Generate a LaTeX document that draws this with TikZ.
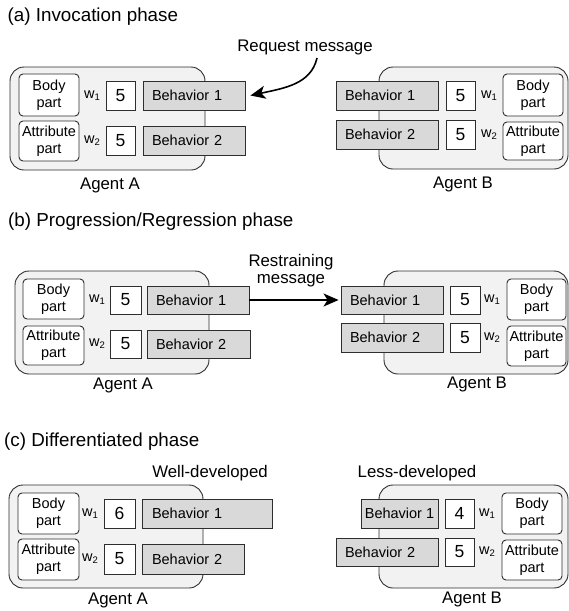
\documentclass[tikz,border=0pt]{standalone}
\usepackage{fontspec}
\setmainfont{Liberation Sans}
\usetikzlibrary{arrows.meta}

\definecolor{agentfill}{HTML}{F2F2F2}
\definecolor{behfill}{HTML}{D9D9D9}
\definecolor{edgegray}{HTML}{2E2E2E}

\newcommand\titlefont{\fontsize{18.8}{21}\selectfont}
\newcommand\labelfont{\fontsize{16.8}{17}\selectfont}
\newcommand\boxfont{\fontsize{14.5}{17}\selectfont}
\newcommand\numfont{\fontsize{17.5}{19}\selectfont}

% generic box given by its corners: name, style, x1, y1, x2, y2, text
\newcommand\placebox[7]{%
  \node[#2, minimum width={#5-#3}, minimum height={#6-#4}] (#1)
    at ({(#3+#5)/2},{(#4+#6)/2}) {#7};}
% w label with subscript
\newcommand\wlab[1]{w\raisebox{-2.2pt}{\fontsize{9.5}{9.5}\selectfont #1}}

\begin{document}
\begin{tikzpicture}[x=1pt,y=-1pt,
  agent/.style={draw=edgegray, fill=agentfill, rounded corners=14pt, line width=0.9pt, inner sep=0pt},
  part/.style={draw=edgegray, fill=white, rounded corners=4pt, line width=0.9pt, inner sep=0pt, align=center, font=\boxfont},
  num/.style={draw=edgegray, fill=white, line width=0.9pt, inner sep=0pt, font=\numfont},
  beh/.style={draw=edgegray, fill=behfill, line width=0.9pt, inner ysep=0pt, align=left, font=\boxfont},
  wtxt/.style={inner sep=0pt, font=\boxfont},
  agentname/.style={inner sep=0pt, font=\labelfont},
  heading/.style={inner sep=0pt, anchor=west, font=\titlefont},
  note/.style={inner sep=0pt, font=\labelfont, align=center},
  msg/.style={line width=1.6pt, -{Stealth[length=15pt,width=13pt,inset=4pt]}}
]
\useasboundingbox (0,0) rectangle (569,611);

% ---------------- (a) Invocation phase ----------------
\node[heading] (ta) at (7.5,17) {(a) Invocation phase};

\placebox{agA1}{agent}{10}{67}{205}{170}{}
\placebox{bodyA1}{part}{19}{74}{79}{116}{Body\\part}
\placebox{attrA1}{part}{19}{121}{79}{161}{Attribute\\part}
\placebox{nA11}{num}{106}{81}{135}{110}{5}
\placebox{nA12}{num}{106}{126}{135}{155}{5}
\node[beh, inner xsep=9pt, text width=84pt, minimum height=29pt] (bA11) at (194,95.5) {Behavior 1};
\node[beh, inner xsep=9pt, text width=84pt, minimum height=29pt] (bA12) at (194,140.5) {Behavior 2};
\node[wtxt] (wA11) at (92,95.5) {\wlab{1}};
\node[wtxt] (wA12) at (92,140.5) {\wlab{2}};
\node[agentname] (nameA1) at (110,185) {Agent A};

\placebox{agB1}{agent}{379}{67}{568}{169}{}
\node[beh, inner xsep=9pt, text width=84pt, minimum height=29pt] (bB11) at (387,95.5) {Behavior 1};
\node[beh, inner xsep=9pt, text width=84pt, minimum height=29pt] (bB12) at (387,134.5) {Behavior 2};
\placebox{nB11}{num}{446}{81}{475}{110}{5}
\placebox{nB12}{num}{446}{120}{475}{149}{5}
\node[wtxt] (wB11) at (489,95.5) {\wlab{1}};
\node[wtxt] (wB12) at (489,134.5) {\wlab{2}};
\placebox{bodyB1}{part}{503}{74}{563}{116}{Body\\part}
\placebox{attrB1}{part}{503}{122}{563}{160}{Attribute\\part}
\node[agentname] (nameB1) at (463,184) {Agent B};

\node[note] (req) at (305,47) {Request message};
\coordinate (reqstart) at (317,58);
\draw[msg] (reqstart) .. controls (311,84) and (285,88) .. ([xshift=5pt]bA11.east);

% ---------------- (b) Progression/Regression phase ----------------
\node[heading] (tb) at (8,222) {(b) Progression/Regression phase};

\placebox{agA2}{agent}{15}{271}{209}{374}{}
\placebox{bodyA2}{part}{23}{279}{84}{319}{Body\\part}
\placebox{attrA2}{part}{23}{326}{84}{365}{Attribute\\part}
\placebox{nA21}{num}{110}{286}{141}{314}{5}
\placebox{nA22}{num}{110}{330}{141}{358}{5}
\node[beh, inner xsep=9pt, text width=84pt, minimum height=28pt] (bA21) at (198,300) {Behavior 1};
\node[beh, inner xsep=9pt, text width=85pt, minimum height=28pt] (bA22) at (198.5,344) {Behavior 2};
\node[wtxt] (wA21) at (97,300) {\wlab{1}};
\node[wtxt] (wA22) at (97,344) {\wlab{2}};
\node[agentname] (nameA2) at (123,385) {Agent A};

\placebox{agB2}{agent}{384}{271}{568}{374}{}
\node[beh, inner xsep=9pt, text width=84pt, minimum height=28pt] (bB21) at (392,300) {Behavior 1};
\node[beh, inner xsep=9pt, text width=84pt, minimum height=29pt] (bB22) at (392,337.5) {Behavior 2};
\placebox{nB21}{num}{450}{286}{480}{314}{5}
\placebox{nB22}{num}{450}{323}{480}{352}{5}
\node[wtxt] (wB21) at (492,300) {\wlab{1}};
\node[wtxt] (wB22) at (492,337.5) {\wlab{2}};
\placebox{bodyB2}{part}{507}{279}{566}{320}{Body\\part}
\placebox{attrB2}{part}{507}{326}{566}{366}{Attribute\\part}
\node[agentname] (nameB2) at (477,384) {Agent B};

\node[note] (restr) at (291,271) {Restraining\\message};
\draw[msg] (bA21.east) -- ([xshift=-2pt]bB21.west);

% ---------------- (c) Differentiated phase ----------------
\node[heading] (tc) at (4,442) {(c) Differentiated phase};

\node[note] (well) at (210,473) {Well-developed};
\placebox{agA3}{agent}{9}{485}{203}{588}{}
\placebox{bodyA3}{part}{18}{493}{79}{534}{Body\\part}
\placebox{attrA3}{part}{18}{539}{79}{580}{Attribute\\part}
\placebox{nA31}{num}{104}{499}{135}{528}{6}
\placebox{nA32}{num}{104}{544}{135}{574}{5}
\node[beh, inner xsep=10pt, text width=110pt, minimum height=29pt] (bA31) at (207,513.5) {Behavior 1};
\node[beh, inner xsep=10pt, text width=82pt, minimum height=30pt] (bA32) at (193,559) {Behavior 2};
\node[wtxt] (wA31) at (90,513.5) {\wlab{1}};
\node[wtxt] (wA32) at (90,559) {\wlab{2}};
\node[agentname] (nameA3) at (118,600) {Agent A};

\node[note] (less) at (417,473) {Less-developed};
\placebox{agB3}{agent}{379}{485}{568}{588}{}
\placebox{bB31}{beh, inner xsep=0pt, align=center}{361}{499}{438}{528}{Behavior 1}
\node[beh, inner xsep=9pt, text width=84pt, minimum height=28pt] (bB32) at (387,552) {Behavior 2};
\placebox{nB31}{num}{445}{499}{474}{528}{4}
\placebox{nB32}{num}{445}{538}{474}{566}{5}
\node[wtxt] (wB31) at (487,513.5) {\wlab{1}};
\node[wtxt] (wB32) at (487,552) {\wlab{2}};
\placebox{bodyB3}{part}{502}{493}{562}{534}{Body\\part}
\placebox{attrB3}{part}{502}{540}{562}{580}{Attribute\\part}
\node[agentname] (nameB3) at (472,599) {Agent B};
\end{tikzpicture}
\end{document}
